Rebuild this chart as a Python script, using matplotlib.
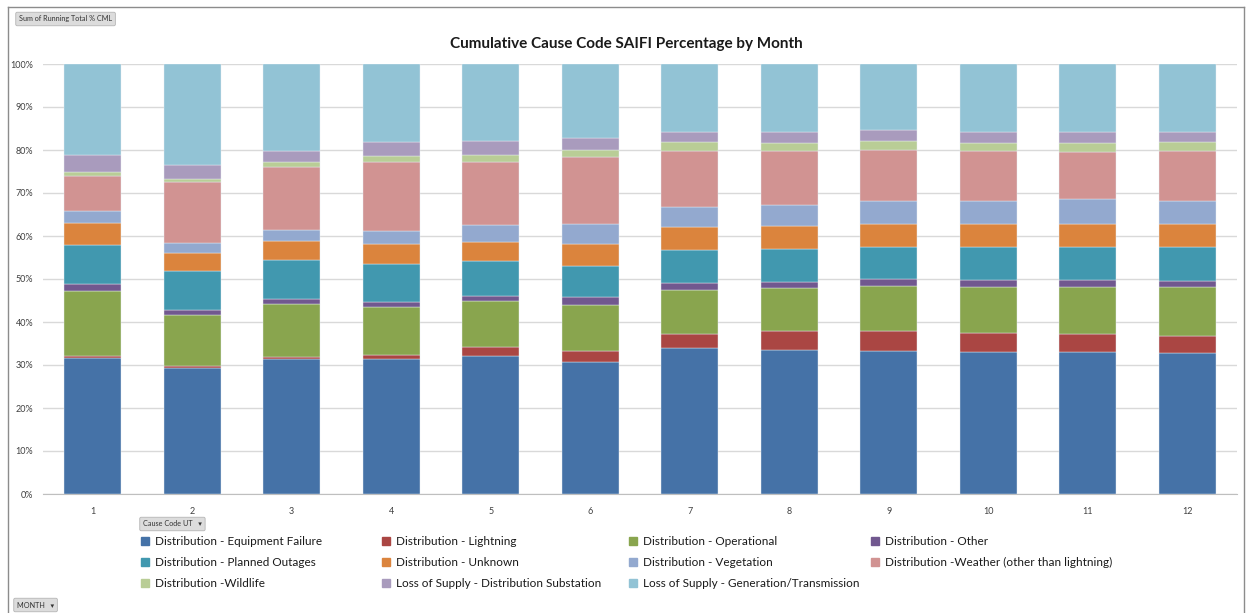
# Cumulative Cause Code SAIFI Percentage by Month - stacked 100% bars

import numpy as np
import matplotlib.pyplot as plt
from matplotlib.patches import Rectangle
from matplotlib.lines import Line2D
from matplotlib.ticker import PercentFormatter

months = [str(m) for m in range(1, 13)]

# share of each cause code per month (%)
equipment_failure = [31.7, 29.3, 31.3, 31.3, 32.2, 30.8, 34.0, 33.5, 33.3, 33.0, 33.0, 32.8]
lightning         = [0.3, 0.5, 0.5, 1.0, 1.9, 2.5, 3.3, 4.3, 4.7, 4.4, 4.2, 4.0]
operational       = [15.1, 11.8, 12.4, 11.3, 10.7, 10.6, 10.1, 10.0, 10.4, 10.8, 11.0, 11.3]
other             = [1.8, 1.1, 1.2, 1.1, 1.3, 1.8, 1.7, 1.6, 1.6, 1.6, 1.5, 1.4]
planned_outages   = [9.1, 9.1, 9.0, 8.9, 8.2, 7.4, 7.6, 7.5, 7.5, 7.6, 7.8, 7.9]
unknown           = [5.0, 4.2, 4.4, 4.5, 4.3, 5.0, 5.3, 5.4, 5.3, 5.4, 5.4, 5.4]
vegetation        = [2.7, 2.3, 2.5, 3.0, 3.9, 4.8, 4.7, 5.0, 5.3, 5.3, 5.6, 5.3]
weather           = [8.25, 14.3, 14.7, 16.0, 14.8, 15.4, 13.1, 12.4, 11.8, 11.6, 11.0, 11.7]
wildlife          = [0.95, 0.7, 1.1, 1.5, 1.5, 1.7, 2.0, 2.0, 2.1, 2.0, 2.1, 2.1]
dist_substation   = [3.9, 3.1, 2.7, 3.2, 3.3, 2.9, 2.5, 2.6, 2.7, 2.5, 2.5, 2.3]
gen_transmission  = [21.2, 23.6, 20.2, 18.2, 17.9, 17.1, 15.7, 15.7, 15.3, 15.8, 15.9, 15.8]

series_names = [
    'Distribution - Equipment Failure', 'Distribution - Lightning',
    'Distribution - Operational', 'Distribution - Other',
    'Distribution - Planned Outages', 'Distribution - Unknown',
    'Distribution - Vegetation', 'Distribution -Weather (other than lightning)',
    'Distribution -Wildlife', 'Loss of Supply - Distribution Substation',
    'Loss of Supply - Generation/Transmission',
]
series_values = [equipment_failure, lightning, operational, other, planned_outages,
                 unknown, vegetation, weather, wildlife, dist_substation, gen_transmission]
series_colors = ['#4572A7', '#AA4643', '#89A54E', '#71588F', '#4198AF', '#DB843D',
                 '#93A9CF', '#D19392', '#B9CD96', '#A99BBD', '#92C3D5']

W, H = 1246, 613


def fx(px):
    return px / W


def fy(py):
    return 1 - py / H


def draw_chart():
    fig = plt.figure(figsize=(W / 100, H / 100), dpi=100)
    ax = fig.add_axes([fx(43), fy(494), fx(1237) - fx(43), fy(64) - fy(494)])

    x = np.arange(1, 13)
    bottom = np.zeros(12)
    for vals, col in zip(series_values, series_colors):
        vals = np.array(vals)
        ax.bar(x, vals, bottom=bottom, width=0.575, color=col, edgecolor='#e8eef4',
               linewidth=0.3, zorder=3)
        bottom += vals

    ax.set_xlim(0.5, 12.5)
    ax.set_ylim(0, 100)
    ax.set_yticks(np.arange(0, 101, 10))
    ax.yaxis.set_major_formatter(PercentFormatter(decimals=0))
    ax.set_xticks(x)
    ax.set_xticklabels(months)
    ax.tick_params(axis='both', length=0, labelsize=6.5, colors='#404040', pad=9)
    ax.tick_params(axis='y', pad=7)
    ax.grid(axis='y', color='#d9d9d9', linewidth=1, zorder=0)
    for s in ['top', 'right', 'left']:
        ax.spines[s].set_visible(False)
    ax.spines['bottom'].set_color('#bfbfbf')

    fig.text(0.503, fy(44), 'Cumulative Cause Code SAIFI Percentage by Month',
             ha='center', va='center', fontsize=11, fontweight='bold', color='#1a1a1a')

    # manual legend, 4 columns x 3 rows
    col_x = [145, 386, 633, 875]
    row_y = [541, 562, 583]
    for i, (name, col) in enumerate(zip(series_names, series_colors)):
        cx, cy = col_x[i % 4], row_y[i // 4]
        fig.patches.append(Rectangle((fx(cx - 4), fy(cy + 4)), fx(8), fy(0) - fy(8),
                                     transform=fig.transFigure, color=col))
        fig.text(fx(cx + 10), fy(cy + 0.5), name, ha='left', va='center', fontsize=8.5,
                 color='#1a1a1a')

    # pivot field buttons
    btn = dict(boxstyle='round,pad=0.45,rounding_size=0.2', fc='#dcdcdc', ec='#b5b5b5', lw=0.6)
    fig.text(fx(19), fy(19), 'Sum of Running Total % CML', fontsize=5.2, va='center',
             color='#333333', bbox=btn)
    fig.text(fx(143), fy(524), 'Cause Code UT   \u25be', fontsize=5.2, va='center',
             color='#333333', bbox=btn)
    fig.text(fx(17), fy(605), 'MONTH   \u25be', fontsize=5.2, va='center',
             color='#333333', bbox=btn)

    # chart frame
    frame = dict(transform=fig.transFigure, color='#8c8c8c', linewidth=1)
    fig.lines.append(Line2D([fx(8), fx(8)], [0, fy(7)], **frame))
    fig.lines.append(Line2D([fx(8), fx(1244)], [fy(7), fy(7)], **frame))
    fig.lines.append(Line2D([fx(1244), fx(1244)], [0, fy(7)], **frame))

    fig.savefig('out.png', dpi=100, facecolor='white')


if __name__ == '__main__':
    plt.rcParams['font.family'] = ['Lato', 'DejaVu Sans']
    draw_chart()
